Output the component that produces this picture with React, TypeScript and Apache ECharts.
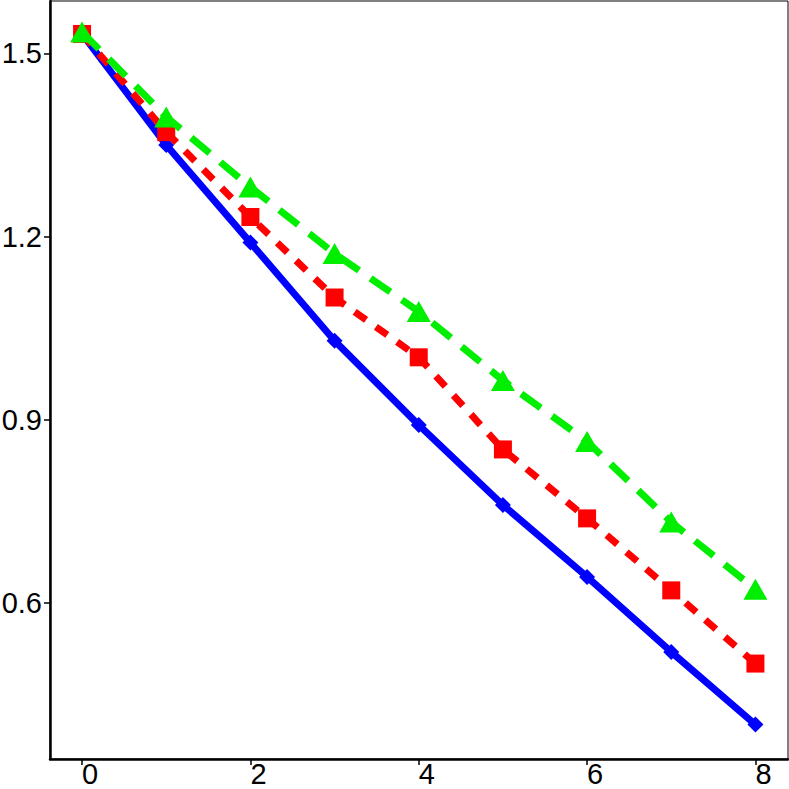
import React, { useEffect, useRef } from "react";
import * as echarts from "echarts";

const xValues = [0, 1, 2, 3, 4, 5, 6, 7, 8];
const blueValues = [1.532, 1.35, 1.19, 1.029, 0.891, 0.76, 0.642, 0.519, 0.4];
const redValues = [1.532, 1.371, 1.232, 1.1, 1.002, 0.851, 0.738, 0.62, 0.5];
const greenValues = [1.535, 1.396, 1.281, 1.172, 1.077, 0.964, 0.864, 0.732, 0.622];
const xTicks = [0, 2, 4, 6, 8];
const yTicks = [0.6, 0.9, 1.2, 1.5];

const font = "'Liberation Sans', Arial, sans-serif";

export default function App() {
  const ref = useRef<HTMLDivElement>(null);
  useEffect(() => {
    if (!ref.current) return;
    const chart = echarts.init(ref.current, null, { renderer: "svg" });
    const pair = (vals: number[]) => vals.map((v, i) => [xValues[i], v]);
    chart.setOption({
      animation: false,
      backgroundColor: "#ffffff",
      grid: {
        left: 50,
        right: 1,
        top: 1,
        bottom: 30,
        containLabel: false,
        outerBoundsMode: "none",
        show: true,
        borderColor: "#000",
        borderWidth: 1,
        backgroundColor: "transparent",
      },
      xAxis: {
        type: "value",
        min: -0.381,
        max: 8.387,
        splitLine: { show: false },
        axisLine: { show: true, onZero: false, lineStyle: { color: "#000", width: 2.5 } },
        axisTick: { show: true, customValues: xTicks, length: 6, lineStyle: { color: "#000", width: 1.5 } },
        axisLabel: {
          customValues: xTicks,
          formatter: (v: number) => String(v),
          color: "#000",
          fontSize: 29,
          fontFamily: font,
          align: "left",
          margin: 0,
        },
      },
      yAxis: {
        type: "value",
        min: 0.3436,
        max: 1.586,
        splitLine: { show: false },
        axisLine: { show: true, onZero: false, lineStyle: { color: "#000", width: 2.5 } },
        axisTick: { show: true, customValues: yTicks, length: 6, lineStyle: { color: "#000", width: 1.5 } },
        axisLabel: {
          customValues: yTicks,
          formatter: (v: number) => v.toFixed(1),
          color: "#000",
          fontSize: 29,
          fontFamily: font,
          margin: 8,
        },
      },
      series: [
        {
          type: "line",
          data: pair(blueValues),
          symbol: "diamond",
          symbolSize: 16,
          itemStyle: { color: "#0000ff" },
          lineStyle: { color: "#0000ff", width: 7, type: "solid" },
          z: 2,
        },
        {
          type: "line",
          data: pair(redValues),
          symbol: "rect",
          symbolSize: 18,
          itemStyle: { color: "#ff0000" },
          lineStyle: { color: "#ff0000", width: 7, type: [14, 12] },
          z: 3,
        },
        {
          type: "line",
          data: pair(greenValues),
          symbol: "triangle",
          symbolSize: [24, 21],
          itemStyle: { color: "#00ee00" },
          lineStyle: { color: "#00ee00", width: 7, type: [24, 14] },
          z: 4,
        },
      ],
    });
    return () => chart.dispose();
  }, []);
  return (
    <div
      ref={ref}
      style={{ position: "absolute", left: 0, top: 0, width: 789, height: 789 }}
    />
  );
}
